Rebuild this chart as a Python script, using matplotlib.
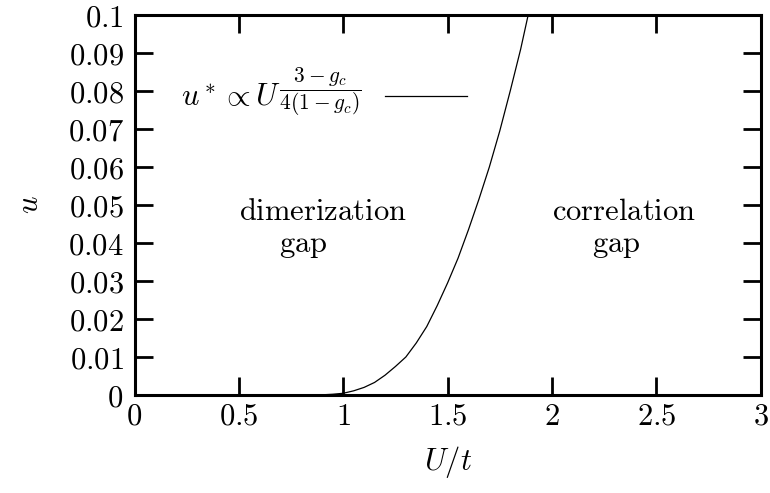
import matplotlib
matplotlib.use("Agg")
import matplotlib.pyplot as plt
from matplotlib.ticker import FixedLocator

plt.rcParams['mathtext.fontset'] = 'cm'
plt.rcParams['font.family'] = 'serif'
plt.rcParams['font.serif'] = ['DejaVu Serif']

# Phase boundary u*(U)
U_vals = [0.80, 0.85, 0.90, 0.95, 1.00, 1.05, 1.10, 1.15, 1.20, 1.25, 1.30,
          1.35, 1.40, 1.45, 1.50, 1.55, 1.60, 1.65, 1.70, 1.75, 1.80, 1.85, 1.886]
u_vals = [0.0, 0.00001, 0.00005, 0.0002, 0.00045, 0.0011, 0.0020, 0.0033,
          0.0052, 0.0075, 0.0100, 0.0137, 0.0180, 0.0235, 0.0295, 0.0360,
          0.0435, 0.0515, 0.0600, 0.0695, 0.0800, 0.0910, 0.1000]

x_ticks = [0, 0.5, 1, 1.5, 2, 2.5, 3]
x_tick_labels = ['0', '0.5', '1', '1.5', '2', '2.5', '3']
y_ticks = [0, 0.01, 0.02, 0.03, 0.04, 0.05, 0.06, 0.07, 0.08, 0.09, 0.1]
y_tick_labels = ['0', '0.01', '0.02', '0.03', '0.04', '0.05', '0.06',
                 '0.07', '0.08', '0.09', '0.1']

fs = 22

fig = plt.figure(figsize=(7.7, 4.93), dpi=100)
ax = fig.add_axes([0.1747, 0.1988, 0.8132, 0.7708])

ax.plot(U_vals, u_vals, color='black', lw=0.9,
        label=r'$u^*\propto U^{\dfrac{3-g_c}{4(1-g_c)}}$')

ax.set_xlim(0, 3)
ax.set_ylim(0, 0.1)
ax.xaxis.set_major_locator(FixedLocator(x_ticks))
ax.yaxis.set_major_locator(FixedLocator(y_ticks))
ax.set_xticklabels(['$' + t + '$' for t in x_tick_labels])
ax.set_yticklabels(['$' + t + '$' for t in y_tick_labels])
ax.tick_params(direction='in', length=13, width=2.0, top=True, right=True,
               labelsize=fs)
ax.tick_params(axis='x', pad=4)
ax.tick_params(axis='y', pad=8)
for s in ax.spines.values():
    s.set_linewidth(2.2)

ax.set_xlabel(r'$U/t$', fontsize=fs, labelpad=9)
ax.set_ylabel(r'$u$', fontsize=fs, labelpad=16)

ax.text(0.903, 0.0482, r'$\mathrm{dimerization}$', fontsize=fs,
        ha='center', va='center')
ax.text(0.81, 0.0395, r'$\mathrm{gap}$', fontsize=fs, ha='center', va='center')
ax.text(2.345, 0.0482, r'$\mathrm{correlation}$', fontsize=fs,
        ha='center', va='center')
ax.text(2.307, 0.0395, r'$\mathrm{gap}$', fontsize=fs, ha='center', va='center')

leg = ax.legend(loc='center right', bbox_to_anchor=(0.531, 0.797),
                frameon=False, markerfirst=False, fontsize=fs,
                handlelength=2.7, handletextpad=0.75, borderpad=0,
                borderaxespad=0)

fig.savefig('out.png', dpi=100)
